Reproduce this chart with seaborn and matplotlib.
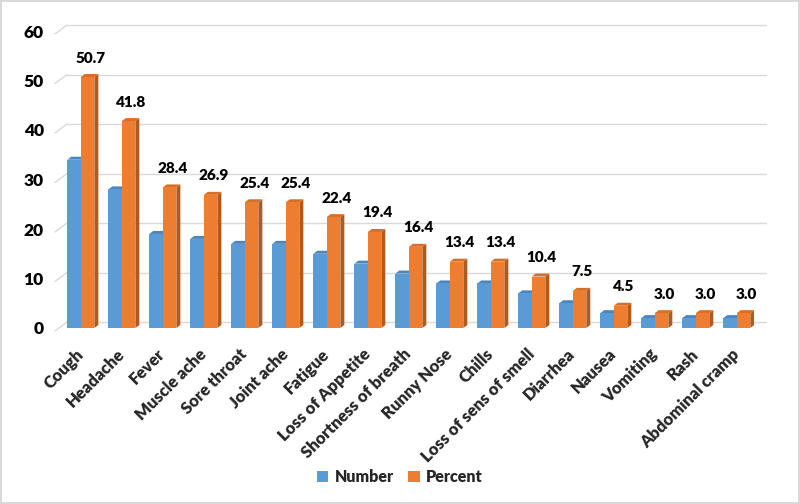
import matplotlib
matplotlib.use("Agg")
import matplotlib.pyplot as plt
import seaborn as sns
import pandas as pd
import numpy as np
from matplotlib.patches import Polygon, Patch
from matplotlib.lines import Line2D

symptoms = ["Cough", "Headache", "Fever", "Muscle ache", "Sore throat", "Joint ache",
            "Fatigue", "Loss of Appetite", "Shortness of breath", "Runny Nose", "Chills",
            "Loss of sens of smell", "Diarrhea", "Nausea", "Vomiting", "Rash", "Abdominal cramp"]
number = [34, 28, 19, 18, 17, 17, 15, 13, 11, 9, 9, 7, 5, 3, 2, 2, 2]
percent = [50.7, 41.8, 28.4, 26.9, 25.4, 25.4, 22.4, 19.4, 16.4, 13.4, 13.4, 10.4, 7.5, 4.5, 3.0, 3.0, 3.0]
series = ["Number", "Percent"]
yticks = [0, 10, 20, 30, 40, 50, 60]

front_colors = {"Number": "#5B9BD5", "Percent": "#ED7D31"}
side_colors = {"Number": "#3F6F9E", "Percent": "#B25A1E"}
top_colors = {"Number": "#4A86C0", "Percent": "#D96E26"}

df = pd.DataFrame({
    "Symptom": symptoms * 2,
    "Value": number + percent,
    "Series": ["Number"] * len(symptoms) + ["Percent"] * len(symptoms),
})

sns.set_style("white")
plt.rcParams["font.family"] = ["Lato", "DejaVu Sans"]

W, H = 800, 504
fig = plt.figure(figsize=(W / 100, H / 100), dpi=100)
fig.patch.set_facecolor("white")
fig.patch.set_edgecolor("#D9D9D9")
fig.patch.set_linewidth(1.5)

left_px, right_px, top_px, bottom_px = 55, 754, 31, 328
ax = fig.add_axes([left_px / W, 1 - bottom_px / H, (right_px - left_px) / W, (bottom_px - top_px) / H])

sns.barplot(data=df, x="Symptom", y="Value", hue="Series", order=symptoms, hue_order=series,
            palette=front_colors, width=0.66, saturation=1, ax=ax, legend=False, zorder=2)
for p in ax.patches:
    p.set_edgecolor("none")

ax.set_xlim(-0.63, len(symptoms) - 1 + 0.42)
ax.set_ylim(0, 60)
ax.set_yticks(yticks)
ax.set_yticklabels([str(t) for t in yticks], fontsize=12.5, fontweight="heavy", color="#000000")
ax.tick_params(axis="y", length=0, pad=8)
ax.tick_params(axis="x", length=0, pad=17)
ax.set_xticks(range(len(symptoms)))
ax.set_xticklabels(symptoms, rotation=45, ha="right", va="center", rotation_mode="anchor",
                   fontsize=12, fontweight="heavy")
for lab in ax.get_xticklabels():
    lab.set_rotation_mode("anchor")
ax.set_xlabel("")
ax.set_ylabel("")
for s in ax.spines.values():
    s.set_visible(False)
ax.patch.set_alpha(0)

# 3D-like walls: gridlines on back wall plus diagonal connectors (display coords)
fig.canvas.draw()
tD = ax.transData
wall_dx = 12
for v in yticks:
    x0, y0 = tD.transform((ax.get_xlim()[0], v))
    x1, _ = tD.transform((ax.get_xlim()[1], v))
    yb = y0 + 6
    ybf = y0 - 3
    line = Line2D([x0 + wall_dx, x1 + wall_dx], [yb, yb], transform=None, color="#D9D9D9", lw=1, zorder=0)
    diag = Line2D([x0, x0 + wall_dx], [ybf, yb], transform=None, color="#D9D9D9", lw=1, zorder=0)
    fig.add_artist(line)
    fig.add_artist(diag)

# bar depth faces
dx, dy = 4, 3
n = len(symptoms)
for i, p in enumerate(ax.patches[:2 * n]):
    ser = series[i // n]
    bx, bw, bh = p.get_x(), p.get_width(), p.get_height()
    (px0, py0) = tD.transform((bx, 0))
    (px1, py1) = tD.transform((bx + bw, bh))
    side = Polygon([(px1, py0), (px1 + dx, py0 + dy), (px1 + dx, py1 + dy), (px1, py1)],
                   closed=True, transform=None, facecolor=side_colors[ser], edgecolor="none", zorder=1.5)
    top = Polygon([(px0, py1), (px1, py1), (px1 + dx, py1 + dy), (px0 + dx, py1 + dy)],
                  closed=True, transform=None, facecolor=top_colors[ser], edgecolor="none", zorder=1.5)
    ax.add_artist(side)
    ax.add_artist(top)
    if ser == "Percent":
        ax.annotate(f"{bh:.1f}", xy=(bx + bw / 2, bh), xytext=(2, 9), textcoords="offset points",
                    ha="center", va="bottom", fontsize=11, fontweight="heavy", color="#000000")

handles = [Patch(facecolor=front_colors[s], edgecolor="none") for s in series]
fig.legend(handles, series, loc="center", bbox_to_anchor=(0.5, 1 - 477 / H), ncol=2, frameon=False,
           prop={"weight": "heavy", "size": 11.5}, handlelength=0.7, handleheight=0.7,
           handletextpad=0.4, columnspacing=0.9)

fig.savefig("out.png", dpi=100, facecolor=fig.get_facecolor(), edgecolor=fig.get_edgecolor())
